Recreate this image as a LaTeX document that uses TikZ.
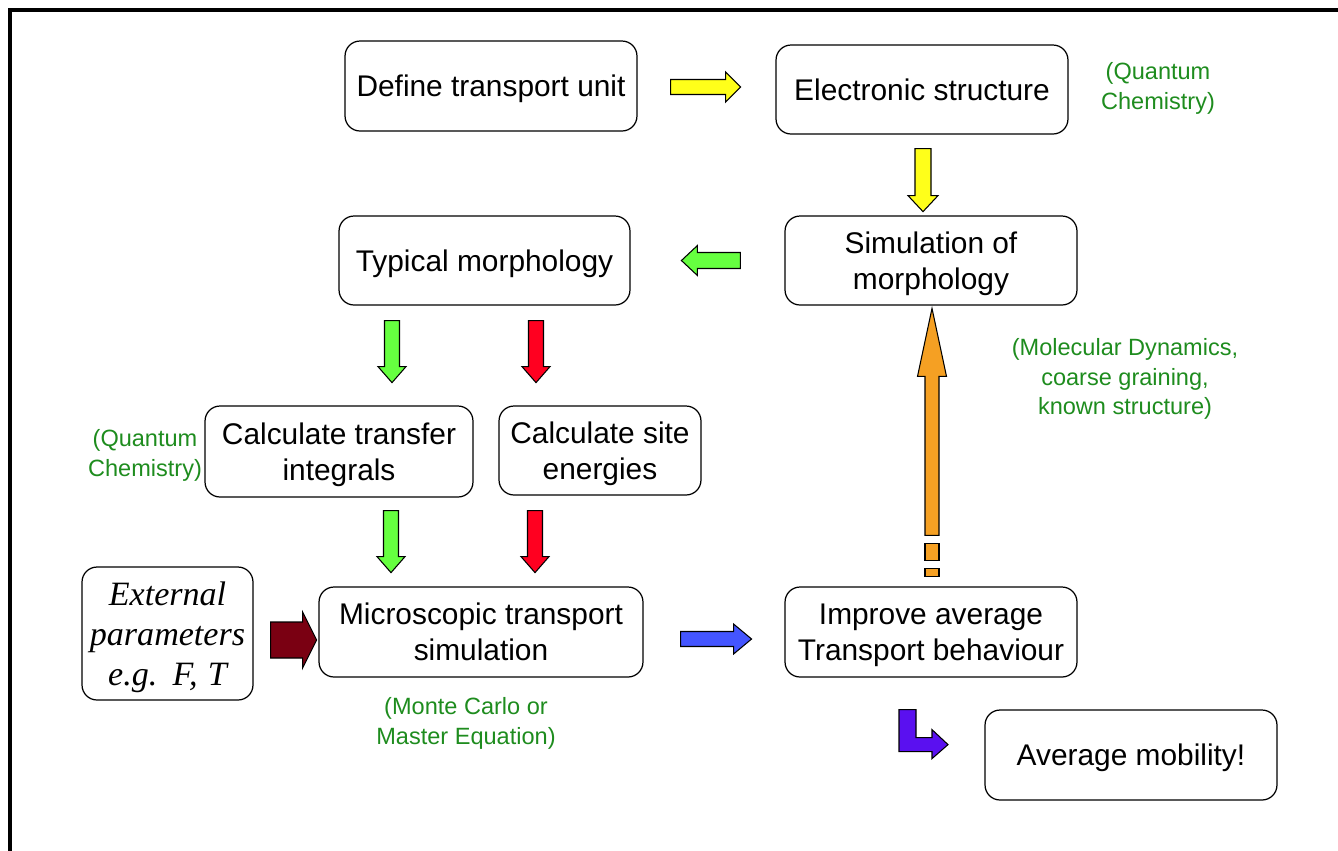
\documentclass[tikz,border=0pt]{standalone}
\usepackage{fontspec}
\setmainfont{Liberation Sans}
\newfontfamily\serifit{Liberation Serif}
\usetikzlibrary{calc}
\definecolor{notegreen}{HTML}{1E8C1E}
\definecolor{yelA}{HTML}{FFFF1A}
\definecolor{grnA}{HTML}{66FF40}
\definecolor{redA}{HTML}{FF0020}
\definecolor{dredA}{HTML}{7A0012}
\definecolor{bluA}{HTML}{4455FF}
\definecolor{orgA}{HTML}{F5A023}
\definecolor{purA}{HTML}{5A10F0}
\begin{document}
\begin{tikzpicture}[x=0.02cm,y=-0.02cm,
	box/.style={draw,rounded corners=0.3cm,line width=0.7pt,align=center,text depth=0pt,
		font=\fontsize{17}{20.5}\selectfont},
	note/.style={text=notegreen,align=center,font=\fontsize{13.4}{17}\selectfont},
	pics/blockarrow/.style n args={5}{code={
		\filldraw[fill=#5,draw=black,line width=0.6pt] (0,-#2) -- ({#1-#4},-#2) -- ({#1-#4},-#3)
			-- (#1,0) -- ({#1-#4},#3) -- ({#1-#4},#2) -- (0,#2) -- cycle;}}]
	\useasboundingbox (0,0) rectangle (1338,850);
	\draw[line width=1.8pt] (10,851) -- (10,10) -- (1339,10);
	% boxes
	\node[box,minimum width=5.84cm,minimum height=1.8cm] (def) at (491,86) {Define transport unit};
	\node[box,minimum width=5.84cm,minimum height=1.78cm] (elec) at (922,89.5) {Electronic structure};
	\node[box,minimum width=5.84cm,minimum height=1.78cm] (sim) at (931,260.5) {Simulation of\\morphology};
	\node[box,minimum width=5.82cm,minimum height=1.78cm] (typ) at (484.5,260.5) {Typical morphology};
	\node[box,minimum width=5.36cm,minimum height=1.82cm] (trans) at (339,451.5) {Calculate transfer\\integrals};
	\node[box,minimum width=4.04cm,minimum height=1.78cm] (site) at (600,450.5) {Calculate site\\energies};
	\node[box,minimum width=6.48cm,minimum height=1.8cm] (micro) at (481,632) {Microscopic transport\\simulation};
	\node[box,minimum width=5.84cm,minimum height=1.8cm] (impr) at (931,632) {Improve average\\Transport behaviour};
	\node[box,minimum width=5.84cm,minimum height=1.8cm] (avg) at (1131,755) {Average mobility!};
	\node[box,minimum width=3.42cm,minimum height=2.66cm,
		font=\serifit\itshape\fontsize{19.4}{22.8}\selectfont] (ext) at (167.5,633.5) {External\\parameters\\e.g.\hspace{0.45em}F,\hspace{0.3em}T};
	% green notes
	\node[note] (qc1) at (1158,88) {(Quantum\\Chemistry)};
	\node[note] (md) at (1125,379) {(Molecular Dynamics,\\coarse graining,\\known structure)};
	\node[note] (qc2) at (145,455) {(Quantum\\Chemistry)};
	\node[note] (mc) at (466,723) {(Monte Carlo or\\Master Equation)};
	% block arrows
	\pic at ($(def.east)+(33,1)$) {blockarrow={70}{7.5}{15}{15}{yelA}};
	\pic[rotate=-90] at ($(elec.south)+(1,14)$) {blockarrow={63}{8}{15}{16}{yelA}};
	\pic[rotate=180] at ($(sim.west)+(-44,0)$) {blockarrow={59}{8}{15}{16}{grnA}};
	\pic[rotate=-90] at ($(typ.south)+(-92.5,15)$) {blockarrow={62}{7.5}{14}{16}{grnA}};
	\pic[rotate=-90] at ($(typ.south)+(51.5,15)$) {blockarrow={62}{7.5}{14}{16}{redA}};
	\pic[rotate=-90] at ($(trans.south)+(52,13)$) {blockarrow={62}{7.5}{14}{16}{grnA}};
	\pic[rotate=-90] at ($(site.south)+(-65,15)$) {blockarrow={62}{7.5}{14}{16}{redA}};
	\pic at ($(ext.east)+(17,6.5)$) {blockarrow={46}{18}{28}{14}{dredA}};
	\pic at ($(micro.east)+(37,7)$) {blockarrow={71}{7.5}{15}{18}{bluA}};
	\pic[rotate=90] at ($(impr.north)+(1,-51)$) {blockarrow={227}{7}{14.5}{68}{orgA}};
	\filldraw[fill=orgA,line width=0.6pt] ($(impr.north)+(-6,-43)$) rectangle ($(impr.north)+(8,-26)$);
	\filldraw[fill=orgA,line width=0.6pt] ($(impr.north)+(-6,-18)$) rectangle ($(impr.north)+(8,-10)$);
	\begin{scope}[shift={(impr.south)}]
		\filldraw[fill=purA,line width=0.6pt] (-32,32) -- (-15,32) -- (-15,60) -- (1,60) -- (1,52) -- (17,67)
			-- (1,81) -- (1,74) -- (-32,74) -- cycle;
	\end{scope}
\end{tikzpicture}
\end{document}
